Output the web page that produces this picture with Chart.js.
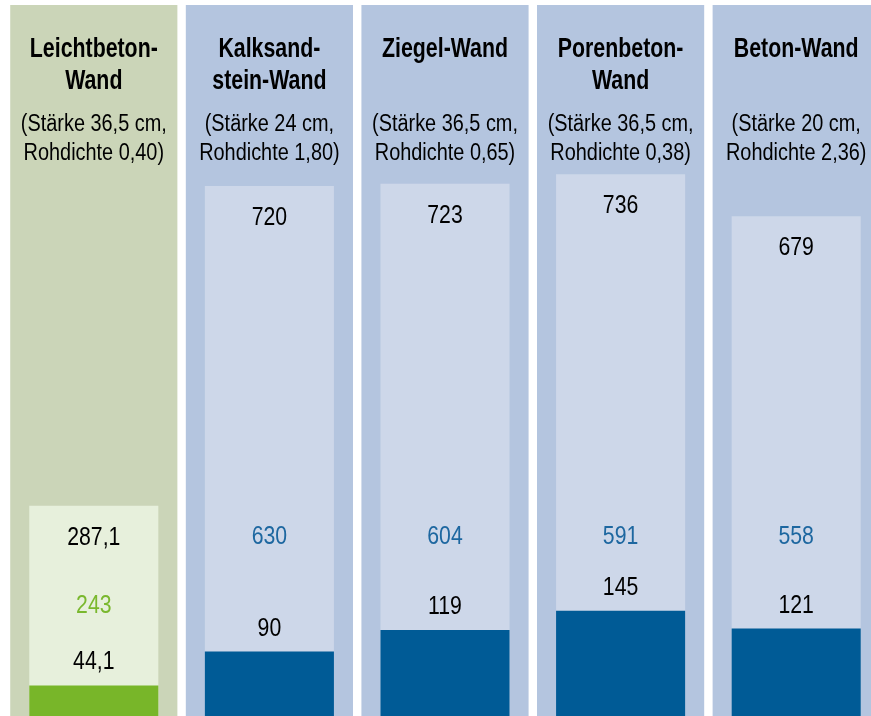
<!DOCTYPE html>
<html>
<head>
<meta charset="utf-8">
<script src="https://cdn.jsdelivr.net/npm/chart.js@4"></script>
<style>
  html, body { margin: 0; padding: 0; background: #fff; }
  #wrap { position: relative; width: 871px; height: 716px; overflow: hidden; }
  #chart { position: absolute; left: 0; top: 0; }
</style>
</head>
<body>
<div id="wrap"><canvas id="chart" width="884" height="718"></canvas></div>
<script>
// Data
var categories = ['Leichtbeton-Wand', 'Kalksandstein-Wand', 'Ziegel-Wand', 'Porenbeton-Wand', 'Beton-Wand'];
var titleLines = [['Leichtbeton-', 'Wand'], ['Kalksand-', 'stein-Wand'], ['Ziegel-Wand'], ['Porenbeton-', 'Wand'], ['Beton-Wand']];
var subtitleLines = [
    ['(Stärke 36,5 cm,', 'Rohdichte 0,40)'],
    ['(Stärke 24 cm,', 'Rohdichte 1,80)'],
    ['(Stärke 36,5 cm,', 'Rohdichte 0,65)'],
    ['(Stärke 36,5 cm,', 'Rohdichte 0,38)'],
    ['(Stärke 20 cm,', 'Rohdichte 2,36)']
];
var totalValues = [287.1, 720, 723, 736, 679];
var lowerValues = [44.1, 90, 119, 145, 121];
var diffValues = [243, 630, 604, 591, 558];
var axisMax = 965;

var FONT = '"Liberation Sans", Arial, sans-serif';

function fmt(v) {
    return String(v).replace('.', ',');
}

// condensed text: squeeze horizontally
function drawText(ctx, text, x, y, sx) {
    ctx.save();
    ctx.translate(x, y);
    ctx.scale(sx, 1);
    ctx.fillText(text, 0, 0);
    ctx.restore();
}

// Draws the column headers and the value labels
var labelPlugin = {
    id: 'labels',
    afterDatasetsDraw: function(chart) {
        var ctx = chart.ctx;
        var x = chart.scales.x;
        var y = chart.scales.y;
        ctx.save();
        ctx.textAlign = 'center';
        ctx.textBaseline = 'alphabetic';
        categories.forEach(function(cat, i) {
            var cx = x.getPixelForValue(i);

            ctx.fillStyle = '#000';
            ctx.font = 'bold 27px ' + FONT;
            titleLines[i].forEach(function(line, j) {
                drawText(ctx, line, cx, 57 + j * 32, 0.79);
            });
            ctx.font = '23px ' + FONT;
            subtitleLines[i].forEach(function(line, j) {
                drawText(ctx, line, cx, 131 + j * 29, 0.865);
            });

            ctx.font = '25px ' + FONT;
            var yTop = y.getPixelForValue(totalValues[i]) + 39;
            var yLow = y.getPixelForValue(lowerValues[i]) - 16;
            ctx.fillStyle = '#000';
            drawText(ctx, fmt(totalValues[i]), cx, yTop, 0.85);
            drawText(ctx, fmt(lowerValues[i]), cx, yLow, 0.85);

            var yMid;
            if (i === 0) {
                yMid = (yTop + yLow) / 2 + 6;
                ctx.fillStyle = '#7ab82e';
            } else {
                yMid = y.getPixelForValue(236);
                ctx.fillStyle = '#1d67a0';
            }
            drawText(ctx, fmt(diffValues[i]), cx, yMid, 0.85);
        });
        ctx.restore();
    }
};

new Chart(document.getElementById('chart'), {
    type: 'bar',
    data: {
        labels: categories,
        datasets: [{
            label: 'unten',
            data: lowerValues,
            backgroundColor: ['#78b629', '#005b96', '#005b96', '#005b96', '#005b96'],
            grouped: false,
            categoryPercentage: 1,
            barPercentage: 0.735
        }, {
            label: 'gesamt',
            data: totalValues,
            backgroundColor: ['#e7f0dc', '#cdd7e9', '#cdd7e9', '#cdd7e9', '#cdd7e9'],
            grouped: false,
            categoryPercentage: 1,
            barPercentage: 0.735
        }, {
            label: 'hintergrund',
            data: categories.map(function() { return axisMax; }),
            backgroundColor: ['#cbd5b8', '#b4c5df', '#b4c5df', '#b4c5df', '#b4c5df'],
            grouped: false,
            categoryPercentage: 1,
            barPercentage: 0.952
        }]
    },
    options: {
        responsive: false,
        animation: false,
        layout: { padding: { left: 6, top: 5, right: 0, bottom: 0 } },
        plugins: {
            legend: { display: false },
            tooltip: { enabled: false }
        },
        scales: {
            x: { display: false },
            y: { display: false, min: 0, max: axisMax }
        }
    },
    plugins: [labelPlugin]
});
</script>
</body>
</html>
